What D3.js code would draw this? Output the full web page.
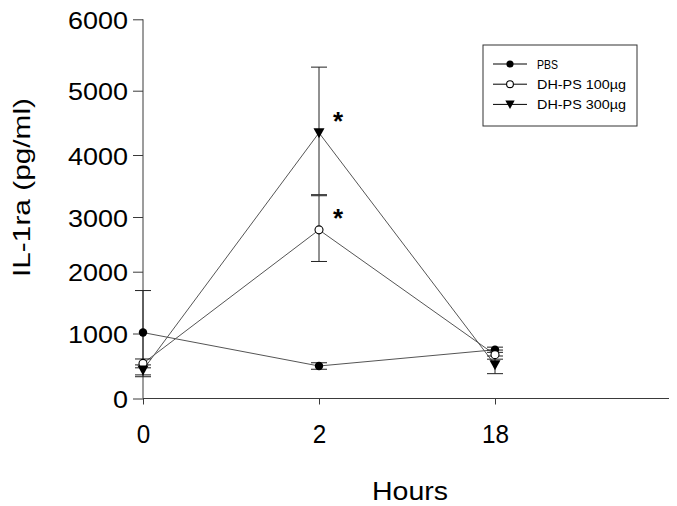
<!DOCTYPE html>
<html><head><meta charset="utf-8">
<script src="https://cdn.jsdelivr.net/npm/d3@7"></script>
<style>body{margin:0;background:#fff}svg{display:block}text{font-family:"Liberation Sans",Arial,sans-serif}</style>
</head><body><svg id="c" width="677" height="506"></svg>
<script>
const hours = ["0", "2", "18"];
const yTicks = [0, 1000, 2000, 3000, 4000, 5000, 6000];
const seriesNames = ["PBS", "DH-PS 100\u00b5g", "DH-PS 300\u00b5g"];
const pbsMean = [1015, 500, 750];
const pbsErr = [680, 50, 40];
const dh100Mean = [540, 2765, 675];
const dh100Err = [68, 578, 70];
const dh300Mean = [440, 4345, 518];
const dh300Err = [77, 985, 136];
const sigMarks = [{h: "2", v: 4345, label: "*"}, {h: "2", v: 2765, label: "*"}];

const svg = d3.select("#c");
const x0 = 143, x1 = 671;
// the scanned reference axis is not evenly spaced; tick pixel positions follow it
const yPix = [398.5, 333.5, 271.7, 217, 155, 90.7, 19.3];
const x = d3.scalePoint().domain(hours.concat(["_"])).range([x0, x1]);
const y = d3.scaleLinear().domain(yTicks).range(yPix);
const yTop = y(6000), yBot = y(0);
const axisColor = "#3a3a3a";

// axes
const ya = svg.append("g").attr("transform", `translate(${x0},0)`)
  .call(d3.axisLeft(y).tickValues(yTicks).tickSize(10).tickPadding(5).tickFormat(d3.format("d")));
ya.select(".domain").attr("stroke", axisColor).attr("d", `M0,${yTop}V${yBot}`);
ya.selectAll(".tick line").attr("stroke", axisColor);
ya.selectAll("text").attr("font-size", 24).attr("fill", "#000").attr("font-family", "Liberation Sans, Arial, sans-serif")
  .attr("dy", "0.38em")
  .each(function() { const t = d3.select(this); const n = t.text().length; t.attr("textLength", n * 15).attr("lengthAdjust", "spacingAndGlyphs"); });

const xa = svg.append("g").attr("transform", `translate(0,${yBot})`)
  .call(d3.axisBottom(x).tickValues(hours).tickSize(6).tickPadding(0));
xa.select(".domain").attr("stroke", axisColor).attr("d", `M${x0},0H669`);
xa.selectAll(".tick line").attr("stroke", axisColor);
xa.selectAll("text").attr("font-size", 26).attr("fill", "#000").attr("font-family", "Liberation Sans, Arial, sans-serif")
  .attr("dy", null).attr("y", 44.5)
  .each(function() { const t = d3.select(this); const n = t.text().length; t.attr("textLength", n * 13.5).attr("lengthAdjust", "spacingAndGlyphs"); });

svg.append("text").attr("x", 410).attr("y", 500).attr("text-anchor", "middle")
  .attr("font-size", 25).attr("textLength", 76).attr("lengthAdjust", "spacingAndGlyphs").text("Hours");
svg.append("text").attr("transform", "translate(30,187.5) rotate(-90)").attr("text-anchor", "middle")
  .attr("font-size", 24).attr("textLength", 179).attr("lengthAdjust", "spacingAndGlyphs").text("IL-1ra (pg/ml)");

const series = [
  {name: seriesNames[0], mean: pbsMean, err: pbsErr, shape: "circleF"},
  {name: seriesNames[1], mean: dh100Mean, err: dh100Err, shape: "circleO"},
  {name: seriesNames[2], mean: dh300Mean, err: dh300Err, shape: "tri"}
];

const line = d3.line().x((d, i) => x(hours[i])).y(d => y(d));
function drawMarker(g, shape, cx, cy, k) {
  k = k || 1;
  if (shape === "circleF") g.append("circle").attr("cx", cx).attr("cy", cy).attr("r", 4.2 * k).attr("fill", "#000");
  else if (shape === "circleO") g.append("circle").attr("cx", cx).attr("cy", cy).attr("r", 4 * k).attr("fill", "#fff").attr("stroke", "#000").attr("stroke-width", 1.1);
  else g.append("path").attr("d", `M${cx-5.5*k},${cy-4.5*k}L${cx+5.5*k},${cy-4.5*k}L${cx},${cy+5.5*k}Z`).attr("fill", "#000");
}

series.forEach(s => {
  svg.append("path").attr("d", line(s.mean)).attr("fill", "none").attr("stroke", "#555").attr("stroke-width", 1);
});
series.forEach(s => {
  const g = svg.append("g");
  s.mean.forEach((m, i) => {
    const cx = x(hours[i]);
    const hi = y(m + s.err[i]), lo = y(m - s.err[i]);
    g.append("line").attr("x1", cx).attr("x2", cx).attr("y1", hi).attr("y2", lo).attr("stroke", "#222");
    [hi, lo].forEach(yy => g.append("line").attr("x1", cx - 8).attr("x2", cx + 8).attr("y1", yy).attr("y2", yy).attr("stroke", "#222"));
  });
});
series.forEach(s => {
  const g = svg.append("g");
  s.mean.forEach((m, i) => drawMarker(g, s.shape, x(hours[i]), y(m)));
});

sigMarks.forEach(d => {
  svg.append("text").attr("x", x(d.h) + 19).attr("y", y(d.v) - 17 + 14).attr("text-anchor", "middle")
    .attr("font-size", 26).attr("font-weight", "bold").text(d.label);
});

// legend
const legendLen = [21, 89, 89];
const lg = svg.append("g");
lg.append("rect").attr("x", 483).attr("y", 45).attr("width", 154).attr("height", 81).attr("fill", "#fff").attr("stroke", "#333");
series.forEach((s, i) => {
  const yy = 64 + i * 20.2;
  lg.append("line").attr("x1", 493).attr("x2", 527).attr("y1", yy).attr("y2", yy).attr("stroke", "#000");
  drawMarker(lg, s.shape, 510, yy, 0.85);
  lg.append("text").attr("x", 537).attr("y", yy + 4.5).attr("font-size", 13)
    .attr("textLength", legendLen[i]).attr("lengthAdjust", "spacingAndGlyphs").text(s.name);
});
</script></body></html>
